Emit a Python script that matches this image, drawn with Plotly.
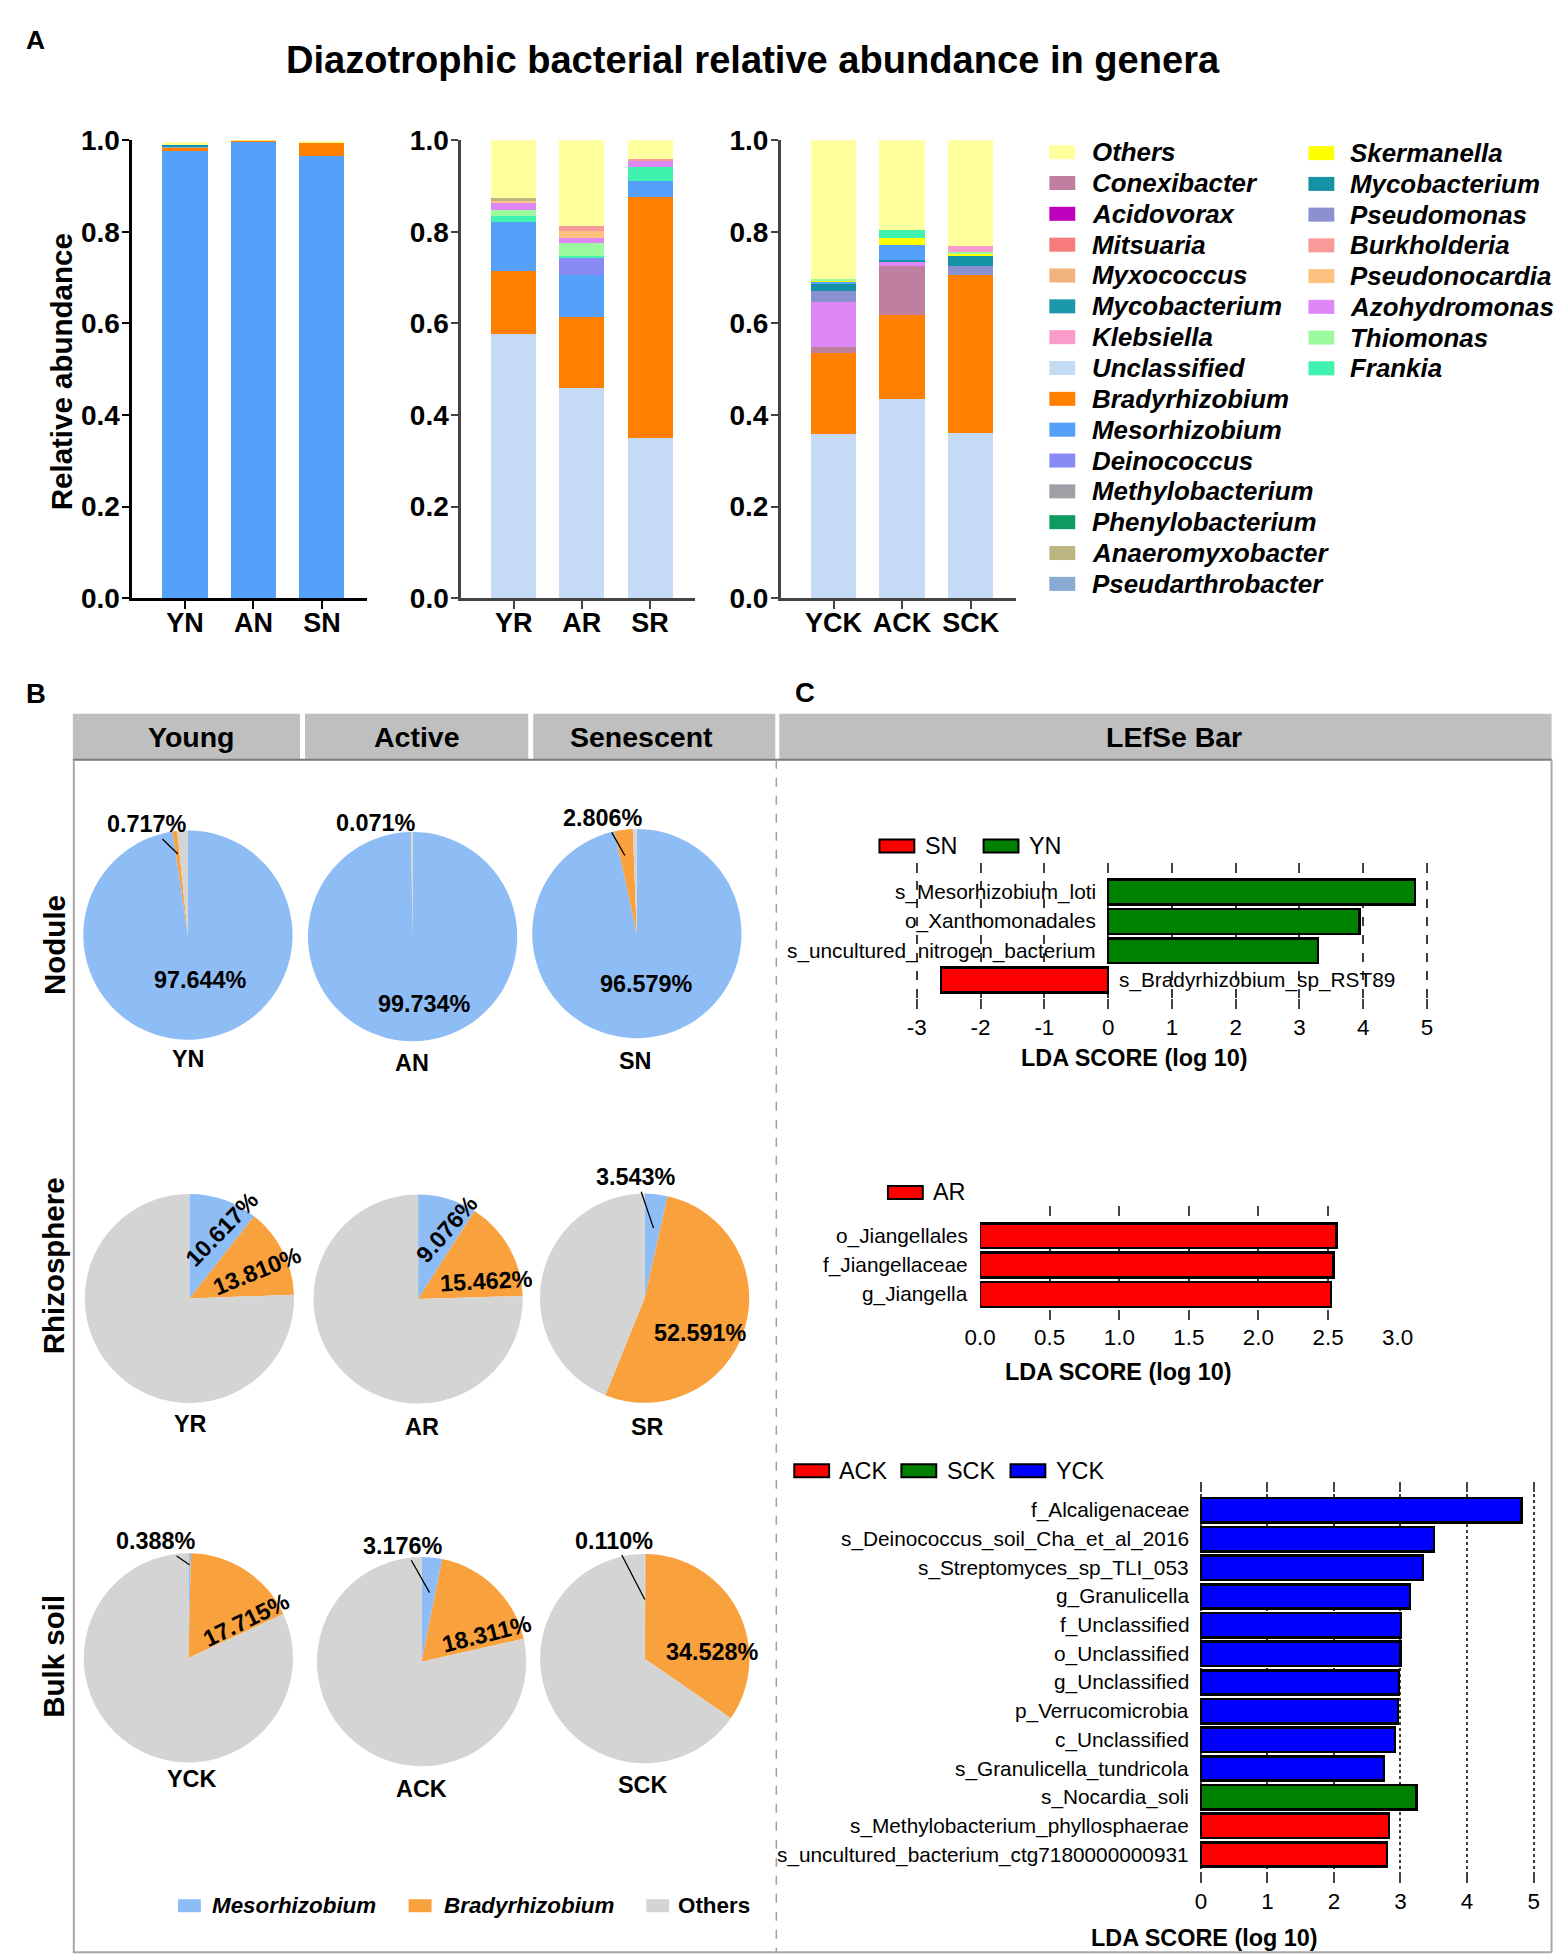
import plotly.graph_objects as go

W, H = 1562, 1958
SANS = "Liberation Sans, Arial, Helvetica, sans-serif"

# ===================== DATA =====================
# Panel A : stacked relative abundance (bottom -> top order per group)
nod_samples = ["YN", "AN", "SN"]
nod_genera = ["Mesorhizobium", "Bradyrhizobium", "Pseudarthrobacter", "Mycobacterium", "Others"]
nod_YN = [0.9764, 0.0072, 0.0030, 0.0030, 0.0064]
nod_AN = [0.9973, 0.0007, 0.0000, 0.0000, 0.0016]
nod_SN = [0.9658, 0.0281, 0.0000, 0.0000, 0.0021]

rhi_samples = ["YR", "AR", "SR"]
rhi_genera = ["Unclassified", "Bradyrhizobium", "Mesorhizobium", "Deinococcus", "Frankia",
              "Thiomonas", "Azohydromonas", "Pseudonocardia", "Burkholderia",
              "Anaeromyxobacter", "Others"]
rhi_YR = [0.577, 0.138, 0.106, 0.000, 0.013, 0.014, 0.015, 0.005, 0.000, 0.005, 0.127]
rhi_AR = [0.459, 0.155, 0.091, 0.037, 0.005, 0.028, 0.012, 0.015, 0.010, 0.000, 0.188]
rhi_SR = [0.350, 0.526, 0.035, 0.000, 0.031, 0.000, 0.013, 0.000, 0.003, 0.000, 0.042]

blk_samples = ["YCK", "ACK", "SCK"]
blk_genera = ["Unclassified", "Bradyrhizobium", "Conexibacter", "Azohydromonas", "Pseudomonas",
              "Mycobacterium", "Mesorhizobium", "Skermanella", "Thiomonas", "Klebsiella",
              "Frankia", "Others"]
blk_YCK = [0.358, 0.177, 0.013, 0.099, 0.024, 0.015, 0.004, 0.003, 0.003, 0.000, 0.000, 0.304]
blk_ACK = [0.435, 0.183, 0.107, 0.008, 0.000, 0.006, 0.032, 0.016, 0.000, 0.000, 0.016, 0.197]
blk_SCK = [0.360, 0.345, 0.000, 0.000, 0.020, 0.022, 0.001, 0.004, 0.004, 0.012, 0.000, 0.232]

legend_col1 = ["Others", "Conexibacter", "Acidovorax", "Mitsuaria", "Myxococcus", "Mycobacterium",
               "Klebsiella", "Unclassified", "Bradyrhizobium", "Mesorhizobium", "Deinococcus",
               "Methylobacterium", "Phenylobacterium", "Anaeromyxobacter", "Pseudarthrobacter"]
legend_col1_colors = ["#FFFF9E", "#BF7F9F", "#BF00BF", "#F77B7B", "#F2B27E", "#1B98A9",
                      "#F99CCB", "#C5DBF5", "#FF8000", "#55A0F8", "#8A8AF5",
                      "#9F9FA6", "#0F9A5F", "#BDB57F", "#8AA9D3"]
legend_col2 = ["Skermanella", "Mycobacterium", "Pseudomonas", "Burkholderia", "Pseudonocardia",
               "Azohydromonas", "Thiomonas", "Frankia"]
legend_col2_colors = ["#FFFF00", "#1592A6", "#8A90D0", "#F99A9A", "#FFC180",
                      "#DE88F8", "#9EFA9E", "#3FF3AE"]

# Panel B : pies (percent)
pie_parts = ["Mesorhizobium", "Bradyrhizobium", "Others"]
pie_samples = ["YN", "AN", "SN", "YR", "AR", "SR", "YCK", "ACK", "SCK"]
pie_meso = [97.644, 99.734, 96.579, 10.617, 9.076, 3.543, 0.388, 3.176, 0.110]
pie_brady = [0.717, 0.071, 2.806, 13.810, 15.462, 52.591, 17.715, 18.311, 34.528]
pie_other = [1.639, 0.195, 0.615, 75.573, 75.462, 43.866, 81.897, 78.513, 65.362]
pie_colors = ["#8EBDF6", "#F9A13C", "#D4D4D4"]
row_names = ["Nodule", "Rhizosphere", "Bulk soil"]
stage_names = ["Young", "Active", "Senescent"]

# Panel C : LEfSe
lefse1_names = ["s_Mesorhizobium_loti", "o_Xanthomonadales", "s_uncultured_nitrogen_bacterium",
                "s_Bradyrhizobium_sp_RST89"]
lefse1_scores = [4.81, 3.94, 3.29, -2.62]
lefse1_groups = ["YN", "YN", "YN", "SN"]
lefse1_legend = ["SN", "YN"]
lefse1_ticks = [-3, -2, -1, 0, 1, 2, 3, 4, 5]

lefse2_names = ["o_Jiangellales", "f_Jiangellaceae", "g_Jiangella"]
lefse2_scores = [2.56, 2.54, 2.52]
lefse2_groups = ["AR", "AR", "AR"]
lefse2_legend = ["AR"]
lefse2_ticks = [0.0, 0.5, 1.0, 1.5, 2.0, 2.5, 3.0]

lefse3_names = ["f_Alcaligenaceae", "s_Deinococcus_soil_Cha_et_al_2016", "s_Streptomyces_sp_TLI_053",
                "g_Granulicella", "f_Unclassified", "o_Unclassified", "g_Unclassified",
                "p_Verrucomicrobia", "c_Unclassified", "s_Granulicella_tundricola",
                "s_Nocardia_soli", "s_Methylobacterium_phyllosphaerae",
                "s_uncultured_bacterium_ctg7180000000931"]
lefse3_scores = [4.82, 3.50, 3.34, 3.14, 3.01, 3.00, 2.98, 2.96, 2.92, 2.75, 3.24, 2.83, 2.80]
lefse3_groups = ["YCK"] * 10 + ["SCK", "ACK", "ACK"]
lefse3_legend = ["ACK", "SCK", "YCK"]
lefse3_ticks = [0, 1, 2, 3, 4, 5]

group_colors = {"SN": "#FF0000", "YN": "#008000", "AR": "#FF0000",
                "ACK": "#FF0000", "SCK": "#008000", "YCK": "#0000FF"}

# ===================== HELPERS =====================
# positions below are given in screenshot pixels; the page shows the figure
# slightly inset/scaled, so convert them to figure coordinates
SC, OFF = 0.983, 23.0


def fx(p):
    return max(0.0, (p - OFF) / SC) / W


def fy(p):
    return 1 - max(0.0, (p - OFF) / SC) / H


def px(d):
    return d / SC


def fs(s):
    return round(s / SC, 1)


color_of = {}
for n, c in zip(legend_col1, legend_col1_colors):
    color_of[n] = c
for n, c in zip(legend_col2, legend_col2_colors):
    color_of[n] = c

fig = go.Figure()
annotations = []
shapes = []


def note(text, x, y, size, xa="center", ya="middle", angle=0, **kw):
    annotations.append(dict(text=text, x=fx(x), y=fy(y), xref="paper", yref="paper",
                            xanchor=xa, yanchor=ya, showarrow=False, textangle=angle,
                            font=dict(family=SANS, size=fs(size), color="black"), **kw))


# ===================== PANEL A =====================
A_groups = [
    (nod_genera, nod_samples, [nod_YN, nod_AN, nod_SN], "x", "y", (131.6, 367.3), "#000000"),
    (rhi_genera, rhi_samples, [rhi_YR, rhi_AR, rhi_SR], "x2", "y2", (461.7, 696.4), "#444444"),
    (blk_genera, blk_samples, [blk_YCK, blk_ACK, blk_SCK], "x3", "y3", (782.5, 1018.4), "#444444"),
]
layout_axes = {}
for k, (genera, samples, cols, xa, ya, (l, r), lc) in enumerate(A_groups):
    for gi, g in enumerate(genera):
        fig.add_trace(go.Bar(
            x=samples, y=[c[gi] for c in cols], name=g,
            marker=dict(color=color_of[g], line=dict(width=0)),
            width=0.66, xaxis=xa, yaxis=ya, showlegend=False, hoverinfo="skip"))
    xk = "xaxis" if k == 0 else f"xaxis{k+1}"
    yk = "yaxis" if k == 0 else f"yaxis{k+1}"
    layout_axes[xk] = dict(domain=[fx(l), fx(r)], anchor=ya, range=[-0.77, 2.66],
                           showline=True, linecolor=lc, linewidth=2.5, ticks="outside",
                           ticklen=8, tickwidth=2, tickcolor=lc, showgrid=False, zeroline=False,
                           ticklabelstandoff=-9,
                           tickfont=dict(family=SANS, size=fs(26.5), color="black", weight="bold"))
    layout_axes[yk] = dict(domain=[fy(597.5), fy(140)], anchor=xa, range=[0, 1.0],
                           dtick=0.2, tickformat=".1f", showline=True, linecolor=lc,
                           linewidth=2.5, ticks="outside", ticklen=7, tickwidth=2,
                           tickcolor=lc, showgrid=False, zeroline=False, ticklabelstandoff=-3,
                           tickfont=dict(family=SANS, size=fs(27.5), color="black", weight="bold"))

note("<b>A</b>", 23, 23, 26, xa="left", ya="top")
note("<b>Diazotrophic bacterial relative abundance in genera</b>", 755, 60, 37.5)
note("<b>Relative abundance</b>", 61, 371, 29, angle=-90)

# Legend of panel A (two columns)
for col_names, col_colors, sx, tx, y0, dy in [
        (legend_col1, legend_col1_colors, 1052, 1093, 152, 30.8),
        (legend_col2, legend_col2_colors, 1312, 1352, 153, 30.7)]:
    for i, (n, c) in enumerate(zip(col_names, col_colors)):
        yc = y0 + i * dy
        shapes.append(dict(type="rect", xref="paper", yref="paper", x0=fx(sx), x1=fx(sx + 26),
                           y0=fy(yc + 7), y1=fy(yc - 7), fillcolor=c, line=dict(width=0)))
        note(f"<b><i>{n}</i></b>", tx, yc, 25.5, xa="left")

# ===================== PANEL B / C FRAMES =====================
header_boxes = [(72, 300), (305, 529), (534, 777), (781, 1556)]
for (a, b) in header_boxes:
    shapes.append(dict(type="rect", xref="paper", yref="paper", x0=fx(a), x1=fx(b),
                       y0=fy(759), y1=fy(713), fillcolor="#BFBFBF", line=dict(width=0),
                       layer="below"))
shapes.append(dict(type="line", xref="paper", yref="paper", x0=fx(72), x1=fx(1556),
                   y0=fy(759), y1=fy(759), line=dict(color="#7A7A7A", width=2)))
for (x0, y0, x1, y1) in [(73, 759, 73, 1950), (72, 1950, 1556, 1950), (1556, 759, 1556, 1950)]:
    shapes.append(dict(type="line", xref="paper", yref="paper", x0=fx(x0), x1=fx(x1),
                       y0=fy(y0), y1=fy(y1), line=dict(color="#A6A6A6", width=2)))
shapes.append(dict(type="line", xref="paper", yref="paper", x0=fx(778), x1=fx(778),
                   y0=fy(759), y1=fy(1950), line=dict(color="#A0A0A0", width=1.5, dash="dash")))

header_texts = stage_names + ["LEfSe Bar"]
header_x = [191, 417, 643, 1177]
for t, xx in zip(header_texts, header_x):
    note(f"<b>{t}</b>", xx, 736, 28)
note("<b>B</b>", 23, 693, 27, xa="left")
note("<b>C</b>", 807, 692, 27)

# ===================== PANEL B PIES =====================
pie_centers = [(187.5, 934), (413, 935.5), (638, 932.5),
               (189, 1297), (418.5, 1297.5), (645.8, 1296.7),
               (188, 1656), (422, 1659.7), (646, 1656.7)]
pie_name_pos = [(188, 1058), (412.5, 1062), (636.5, 1060),
                (190, 1422), (422.5, 1425), (648.5, 1425),
                (191.5, 1777), (421.5, 1787), (643.5, 1783)]
R = 105
# (part index, text dx, text dy, angle, leader tip (dx,dy) or None) relative to pie centre
pie_label_style = [
    [(1, -40, -110, 0, (-10, -81)), (0, 13, 45, 0, None)],
    [(1, -37, -113, 0, None), (0, 12, 67, 0, None)],
    [(1, -33, -115, 0, (-12, -78)), (0, 10, 50, 0, None)],
    [(0, 33, -69, -46, None), (1, 68, -27, -22, None)],
    [(0, 29, -70, -49, None), (1, 69, -18, -3, None)],
    [(0, -8, -120, 0, (9, -70)), (1, 56, 35, 0, None)],
    [(0, -32, -116, 0, (1, -93)), (1, 58, -38, -26, None)],
    [(0, -18, -115, 0, (8, -69)), (1, 65, -28, -14, None)],
    [(0, -30, -117, 0, (0, -59)), (1, 68, -7, 0, None)],
]
part_values = [pie_meso, pie_brady, pie_other]
for i, s in enumerate(pie_samples):
    cx, cy = pie_centers[i]
    fig.add_trace(go.Pie(
        values=[pie_meso[i], pie_brady[i], pie_other[i]], labels=pie_parts, sort=False,
        direction="clockwise", rotation=0, textinfo="none", hoverinfo="skip",
        marker=dict(colors=pie_colors, line=dict(width=0)), showlegend=False,
        domain=dict(x=[fx(cx - R), fx(cx + R)], y=[fy(cy + R), fy(cy - R)])))
    nx, ny = pie_name_pos[i]
    note(f"<b>{s}</b>", nx, ny, 23)
    for (p, tdx, tdy, ang, tip) in pie_label_style[i]:
        txt = f"<b>{part_values[p][i]:.3f}%</b>"
        if tip is None:
            note(txt, cx + tdx, cy + tdy, 23, angle=ang)
        else:
            pdx, pdy = tip
            annotations.append(dict(text=txt, x=fx(cx + pdx), y=fy(cy + pdy), xref="paper",
                                    yref="paper", xanchor="center", yanchor="middle",
                                    showarrow=True, arrowhead=0, arrowwidth=1.3,
                                    arrowcolor="black", ax=px(tdx - pdx), ay=px(tdy - pdy),
                                    standoff=0, textangle=ang,
                                    font=dict(family=SANS, size=fs(23), color="black")))

for ri, rn in enumerate(row_names):
    note(f"<b>{rn}</b>", 53, [944, 1264, 1654][ri], 29, angle=-90)

# pie legend
pie_leg_x = [(177.5, 210), (409, 442.5), (647.5, 677.5)]
for k, (n, c) in enumerate(zip(pie_parts, pie_colors)):
    sx, tx = pie_leg_x[k]
    shapes.append(dict(type="rect", xref="paper", yref="paper", x0=fx(sx), x1=fx(sx + 23),
                       y0=fy(1910), y1=fy(1897), fillcolor=c, line=dict(width=0)))
    label = f"<b><i>{n}</i></b>" if n != "Others" else f"<b>{n}</b>"
    note(label, tx, 1903, 22, xa="left")

# ===================== PANEL C LEfSe =====================
C_charts = [
    (lefse1_names, lefse1_scores, lefse1_groups, lefse1_legend, lefse1_ticks, "x4", "y4",
     (917.7, 1432.3), (861.7, 1008.3), [-3.02, 5.02], "{:g}", "dash",
     [4, -1], (1137, 1057), (881.5, 845), [(881.5, 925), (986, 1030)]),
    (lefse2_names, lefse2_scores, lefse2_groups, lefse2_legend, lefse2_ticks, "x5", "y5",
     (982.5, 1401.5), (1205, 1318.3), [0.0, 3.0], "{:.1f}", "dash",
     [2.87, -1], (1121.5, 1370), (890, 1191), [(890, 933)]),
    (lefse3_names, lefse3_scores, lefse3_groups, lefse3_legend, lefse3_ticks, "x6", "y6",
     (1202.7, 1539.3), (1480, 1881), [-0.02, 5.02], "{:g}", "dot",
     [13, -1], (1208, 1936), (796, 1469), [(796, 839), (903.5, 947.5), (1013, 1056.5)]),
]
for (names, scores, groups, leg, tv, xa, ya, (l, r), (t, b), xr, fmt, gd,
     yr, (ttx, tty), (lgx, lgy), legpos) in C_charts:
    fig.add_trace(go.Bar(
        x=scores, y=names, orientation="h", width=0.85,
        marker=dict(color=[group_colors[g] for g in groups], line=dict(color="black", width=2.5)),
        xaxis=xa, yaxis=ya, showlegend=False, hoverinfo="skip"))
    n = xa[1:]
    layout_axes[f"xaxis{n}"] = dict(
        domain=[fx(l), fx(r)], anchor=ya, range=xr, tickvals=tv,
        ticktext=[fmt.format(v) for v in tv],
        showline=False, zeroline=False, showgrid=True, gridcolor="#3C3C3C", gridwidth=1.5,
        griddash=gd, ticks="inside", ticklen=10, tickwidth=2, tickcolor="#444444",
        mirror="ticks", ticklabelstandoff=2,
        tickfont=dict(family=SANS, size=fs(22), color="black"))
    layout_axes[f"yaxis{n}"] = dict(
        domain=[fy(b), fy(t)], anchor=xa, type="category", range=yr, showticklabels=False,
        showline=False, zeroline=False, showgrid=False, ticks="")
    for nm, sc in zip(names, scores):
        annotations.append(dict(
            text=nm, x=0, y=nm, xref=xa, yref=ya, showarrow=False,
            xanchor="right" if sc > 0 else "left", yanchor="middle",
            xshift=px(-10) if sc > 0 else px(9),
            font=dict(family=SANS, size=fs(20.4), color="black")))
    note("<b>LDA SCORE (log 10)</b>", ttx, tty, 23)
    for g, (sx, tx) in zip(leg, legpos):
        shapes.append(dict(type="rect", xref="paper", yref="paper", x0=fx(sx), x1=fx(sx + 35),
                           y0=fy(lgy + 6.5), y1=fy(lgy - 6.5), fillcolor=group_colors[g],
                           line=dict(color="black", width=2)))
        note(g, tx, lgy, 23, xa="left")

fig.update_layout(
    width=W, height=H, margin=dict(l=0, r=0, t=0, b=0),
    paper_bgcolor="white", plot_bgcolor="white", barmode="stack", showlegend=False,
    annotations=annotations, shapes=shapes, **layout_axes)

fig.write_html("out.html")
